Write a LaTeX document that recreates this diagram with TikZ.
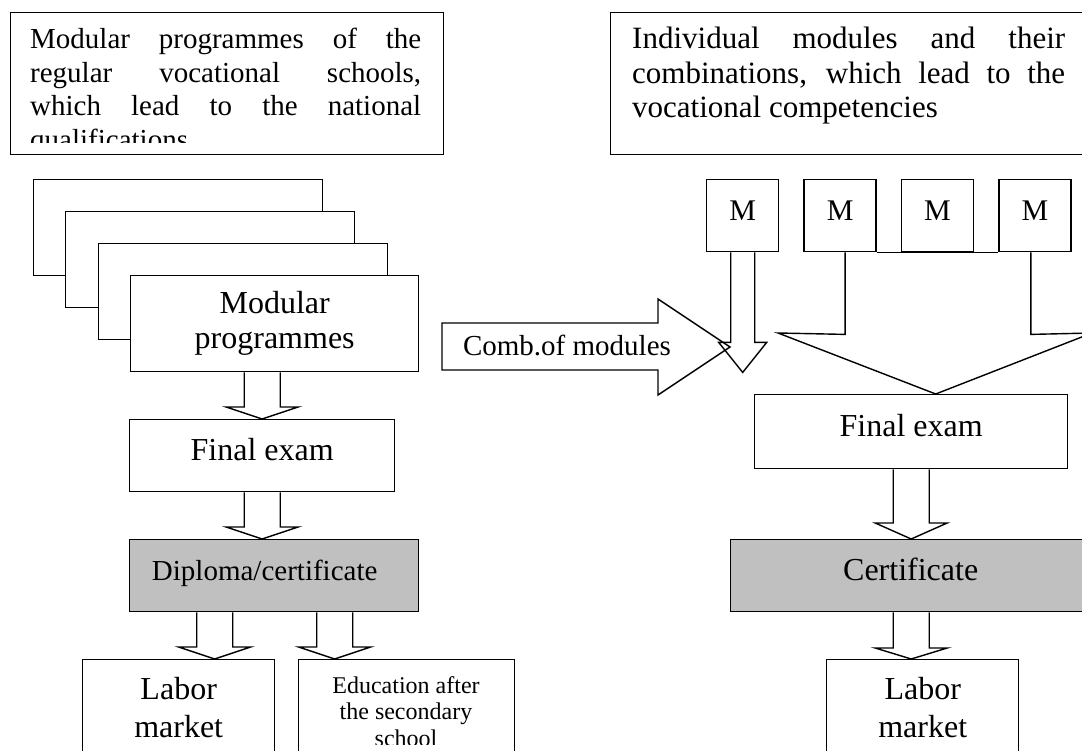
\documentclass[tikz,border=0pt]{standalone}
\usepackage{fontspec}
\setmainfont{Liberation Serif}
\usetikzlibrary{calc,positioning}

\definecolor{certgray}{HTML}{C0C0C0}
\newcommand{\headfont}{\fontsize{31pt}{34.5pt}\selectfont}
\newcommand{\lheadfont}{\fontsize{29pt}{33.5pt}\selectfont}
\newcommand{\boxfont}{\fontsize{32pt}{36pt}\selectfont}
\newcommand{\midfont}{\fontsize{29pt}{34pt}\selectfont}
\newcommand{\edufont}{\fontsize{24pt}{26.5pt}\selectfont}
\newcommand{\modfont}{\fontsize{30pt}{36pt}\selectfont}

% hollow arrow pointing down: start, tip, half shaft, half head, head length
\newcommand{\blockdown}[5]{%
  \draw[blockline] let \p1=#1, \p2=#2 in
    (\x2-#3pt,\y1) -- (\x2-#3pt,\y2+#5pt) -- (\x2-#4pt,\y2+#5pt) -- (\x2,\y2)
    -- (\x2+#4pt,\y2+#5pt) -- (\x2+#3pt,\y2+#5pt) -- (\x2+#3pt,\y1);}

\begin{document}
\begin{tikzpicture}[x=1pt, y=-1pt,
	plainbox/.style={draw, line width=1.4pt, fill=white, inner sep=0pt, anchor=north west},
	bigtext/.style={plainbox, font=\boxfont, text height=20.8pt, text depth=11.2pt},
	midtext/.style={plainbox, font=\midfont, text height=18.9pt, text depth=10.1pt},
	mbox/.style={plainbox, font=\modfont, text height=19.5pt, text depth=10.5pt, minimum size=72pt},
	headtext/.style={font=\headfont, inner sep=0pt, align=justify, anchor=north west},
	blockline/.style={line width=1.4pt}]
	\useasboundingbox (0,0) rectangle (1082,751);

	% Headings of the two columns
	\node[plainbox, minimum width=433pt, minimum height=142pt] (lhead) at (10,12) {};
	\begin{scope}
		\clip (10,12) rectangle (443,143);
		\node[headtext, font=\lheadfont, text width=391pt] (lheadtxt) at (30,28.2) {Modular programmes of the\linebreak regular vocational schools,\linebreak which lead to the national\linebreak qualifications};
	\end{scope}
	\node[plainbox, minimum width=476pt, minimum height=142pt] (rhead) at (610,12) {};
	\node[headtext, text width=433pt] (rheadtxt) at (632,26.8) {Individual modules and their\linebreak combinations, which lead to the\linebreak vocational competencies};

	% Left column: stack of programmes
	\node[plainbox, minimum width=289pt, minimum height=96pt] (back1) at (33,179) {};
	\node[plainbox, minimum width=289pt, minimum height=96pt] (back2) at (65,211) {};
	\node[plainbox, minimum width=289pt, minimum height=96pt] (back3) at (98,243) {};
	\node[plainbox, font=\boxfont, align=center, minimum width=288pt, minimum height=96pt] (modp) at (130,275) {Modular\\[-1pt]programmes};

	\node[bigtext, minimum width=265pt, minimum height=72pt] (lfin) at (129,419) {Final exam};
	\node[midtext, fill=certgray, minimum width=289pt, minimum height=72pt] (dipl) at (129,539) {Diploma/certificate\hspace*{19pt}};
	\node[plainbox, font=\boxfont, align=center, minimum width=192pt, minimum height=96pt] (llab) at (82,659) {Labor\\[2pt]market};
	\node[plainbox, minimum width=216pt, minimum height=100pt] (ledu) at (298,659) {};
	\begin{scope}
		\clip (298,659) rectangle (514,744);
		\node[font=\edufont, align=center, inner sep=0pt, anchor=north] (ledutxt) at (406,676) {Education after\\the secondary\\school};
	\end{scope}

	\blockdown{(modp.south)}{(lfin.north)}{18}{36}{12}
	\blockdown{(lfin.south)}{(lfin.south |- dipl.north)}{18}{36}{12}
	\blockdown{(dipl.south)}{($(llab.north)+(36,0)$)}{18}{36}{12}
	\blockdown{(dipl.south)}{($(ledu.north)+(-72,0)$)}{18}{36}{12}

	% Combination arrow
	\draw[blockline] (442,323) -- (658,323) -- (658,299) -- (730,347) -- (658,395) -- (658,370) -- (442,370) -- cycle;
	\node[font=\midfont, inner sep=0pt, text height=18.9pt, text depth=10.1pt] (comb) at (567,351) {Comb.of modules};

	% Right column: modules
	\node[mbox] (m1) at (706,179) {M};
	\node[mbox, right=24pt of m1] (m2) {M};
	\node[mbox, right=24pt of m2] (m3) {M};
	\node[mbox, right=24pt of m3] (m4) {M};
	\draw[blockline] (m2.south east) -- (m4.south west);

	\node[bigtext, minimum width=313pt, minimum height=74pt] (rfin) at (754,394) {Final exam};
	\node[bigtext, fill=certgray, minimum width=360pt, minimum height=72pt] (cert) at (730,539) {Certificate};
	\node[plainbox, font=\boxfont, align=center, minimum width=192pt, minimum height=96pt] (rlab) at (826,659) {Labor\\[2pt]market};

	\blockdown{(m1.south)}{($(m1.south)+(0,120)$)}{12}{24}{30}
	\coordinate (mtip) at ($(rfin.north)+(24.5,0)$);
	\draw[blockline] ($(m2.south)+(5,0)$) -- ++(0,82) -- (778,333) -- (mtip) -- (1092,333) -- ($(m4.south)+(-4,82)$) -- ($(m4.south)+(-4,0)$);
	\blockdown{(rfin.south)}{(rfin.south |- cert.north)}{18}{36}{16}
	\blockdown{(cert.south)}{(rfin.south |- rlab.north)}{18}{36}{11}
\end{tikzpicture}
\end{document}
